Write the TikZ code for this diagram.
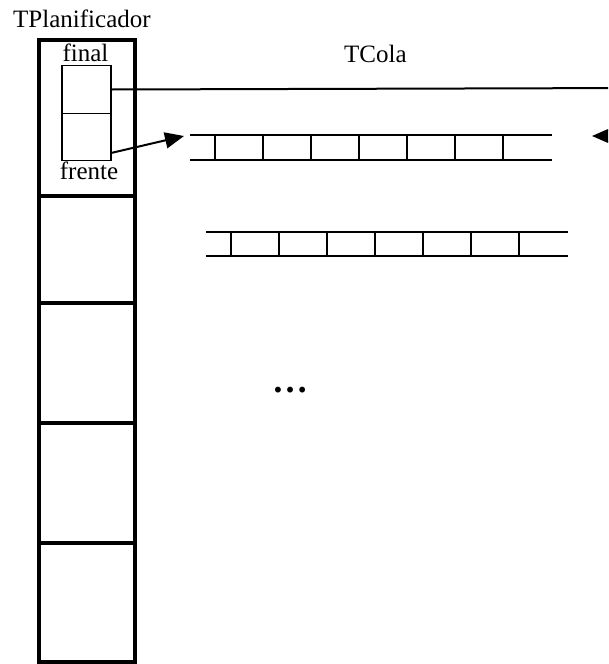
\documentclass[tikz,border=0pt]{standalone}
\usepackage{fontspec}
\setmainfont{Liberation Serif}
\usetikzlibrary{arrows.meta}
\begin{document}
\begin{tikzpicture}[x=1pt,y=-1pt,
  lbl/.style={inner sep=0pt,font=\fontsize{25}{30}\selectfont},
  column/.style={line width=3.3pt},
  cell/.style={draw,line width=1.3pt,minimum width=49pt,minimum height=47.5pt,inner sep=0pt},
  qline/.style={line width=2pt},
  link/.style={line width=2pt},
  ptr/.style={link,-{Triangle[length=19pt,width=16pt]}}]
\useasboundingbox (0,0) rectangle (608,664);
\clip (0,0) rectangle (608,664);

% titles
\node[lbl,anchor=base west] (tplan) at (13,27) {TPlanificador};
\node[lbl,anchor=base west] (tcola) at (344,62) {TCola};

% planner column with its slots
\draw[column] (39,40) rectangle (135,662);
\foreach \yy in {196,303,423,543}
  \draw[column] (39,\yy) -- (135,\yy);

% front/rear pointer pair of the first queue
\node[cell] (finalbox) at (86.5,89.5) {};
\node[cell] (frentebox) at (86.5,137) {};
\node[lbl,anchor=base] (final) at (85.5,61) {final};
\node[lbl,anchor=base] (frente) at (89,179) {frente};

% first queue
\draw[qline] (190,135) -- (552,135) (190,160) -- (552,160);
\foreach \k in {0,...,6}
  \draw[qline] ({215+48*\k},135) -- ({215+48*\k},160);
% second queue
\draw[qline] (206,232) -- (568,232) (206,256) -- (568,256);
\foreach \k in {0,...,6}
  \draw[qline] ({231+48*\k},232) -- ({231+48*\k},256);

% more queues follow
\node[inner sep=0pt,font=\fontsize{36}{42}\selectfont\bfseries,anchor=base] (more) at (290,392) {\char"2026};

% pointers
\coordinate (frout) at (111,153);
\coordinate (q1head) at (184,136);
\coordinate (rearout) at (640,88);
\coordinate (rearin) at (640,136);
\coordinate (q1tail) at (592,136);
\draw[link] (finalbox.east) -- (rearout);
\draw[ptr] (frout) -- (q1head);
\draw[ptr] (rearin) -- (q1tail);
\end{tikzpicture}
\end{document}
